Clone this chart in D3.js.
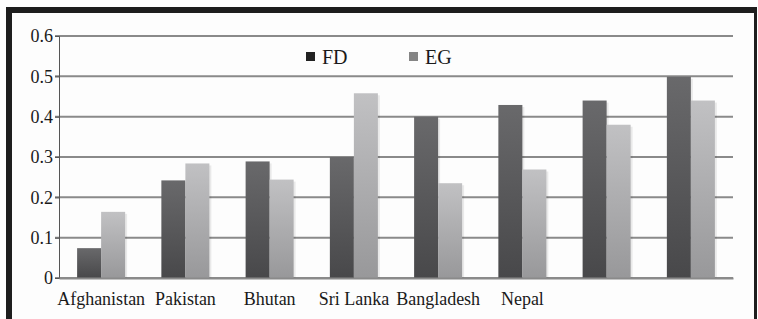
<!DOCTYPE html>
<html>
<head>
<meta charset="utf-8">
<script src="https://cdn.jsdelivr.net/npm/d3@7"></script>
<style>
  html, body { margin: 0; padding: 0; background: #ffffff; }
  svg text { font-family: "Liberation Serif", "Times New Roman", serif; fill: #1a1a1a; }
</style>
</head>
<body>
<svg id="chart"></svg>
<script>
// chart data
var categories = ["Afghanistan", "Pakistan", "Bhutan", "Sri Lanka", "Bangladesh", "Nepal", "", ""];
var series = ["FD", "EG"];
var fdValues = [0.074, 0.242, 0.289, 0.300, 0.400, 0.429, 0.440, 0.499];
var egValues = [0.164, 0.284, 0.244, 0.458, 0.235, 0.269, 0.380, 0.440];
var yTicks = [0, 0.1, 0.2, 0.3, 0.4, 0.5, 0.6];

var width = 758, height = 319;
var plot = {left: 59, right: 733, top: 36, bottom: 278};

var svg = d3.select("#chart")
    .attr("width", width)
    .attr("height", height);

// frame: off-white panel with a heavy top/left border, thin right edge
svg.append("rect")
    .attr("x", 6).attr("y", 7)
    .attr("width", width - 6 - 1).attr("height", height - 7)
    .attr("fill", "#1e1e1e");
svg.append("rect")
    .attr("x", 12).attr("y", 13)
    .attr("width", width - 12 - 4).attr("height", height - 13)
    .attr("fill", "#fdfdfd");

// gradients for the bars
var defs = svg.append("defs");
function grad(id, top, bottom) {
  var g = defs.append("linearGradient")
      .attr("id", id)
      .attr("x1", 0).attr("y1", 0).attr("x2", 0).attr("y2", 1);
  g.append("stop").attr("offset", "0%").attr("stop-color", top);
  g.append("stop").attr("offset", "100%").attr("stop-color", bottom);
}
grad("gFD", "#69696b", "#48484a");
grad("gEG", "#c1c1c3", "#98989a");

var idx = d3.range(categories.length);

var x0 = d3.scaleBand()
    .domain(idx)
    .range([plot.left, plot.right])
    .paddingInner(0.43)
    .paddingOuter(0.215);

var x1 = d3.scaleBand()
    .domain(series)
    .range([0, x0.bandwidth()]);

var y = d3.scaleLinear()
    .domain([0, 0.6])
    .range([plot.bottom, plot.top]);

// gridlines
svg.append("g")
    .selectAll("line")
    .data(yTicks)
    .join("line")
    .attr("x1", plot.left - 4)
    .attr("x2", plot.right)
    .attr("y1", function(d) { return y(d); })
    .attr("y2", function(d) { return y(d); })
    .attr("stroke", "#8a8a8a")
    .attr("stroke-width", 2);

// y axis
var yAxis = svg.append("g")
    .attr("transform", "translate(" + plot.left + ",0)")
    .call(d3.axisLeft(y).tickValues(yTicks).tickSize(4).tickPadding(2)
      .tickFormat(function(d) { return d === 0 ? "0" : d3.format(".1f")(d); }));
yAxis.select(".domain").attr("stroke", "#555").attr("stroke-width", 1);
yAxis.selectAll(".tick line").attr("stroke", "#555");
yAxis.selectAll("text")
    .attr("font-size", "18px")
    .attr("fill", "#1a1a1a")
    .style("font-family", "Liberation Serif, serif");

// bars
var rows = idx.map(function(i) {
  return [{s: "FD", v: fdValues[i]}, {s: "EG", v: egValues[i]}];
});

var groups = svg.append("g")
    .selectAll("g")
    .data(rows)
    .join("g")
    .attr("transform", function(d, i) { return "translate(" + x0(i) + ",0)"; });

// faint right-side shadow, then the bars
groups.selectAll("rect.shadow")
    .data(function(d) { return d; })
    .join("rect")
    .attr("class", "shadow")
    .attr("x", function(d) { return x1(d.s) + 2; })
    .attr("y", function(d) { return y(d.v) + 2; })
    .attr("width", x1.bandwidth())
    .attr("height", function(d) { return y(0) - y(d.v) - 1; })
    .attr("fill", "#000")
    .attr("opacity", 0.08);

groups.selectAll("rect.bar")
    .data(function(d) { return d; })
    .join("rect")
    .attr("class", "bar")
    .attr("x", function(d) { return x1(d.s); })
    .attr("y", function(d) { return y(d.v); })
    .attr("width", x1.bandwidth())
    .attr("height", function(d) { return y(0) - y(d.v); })
    .attr("fill", function(d) { return d.s === "FD" ? "url(#gFD)" : "url(#gEG)"; });

// x axis baseline + labels
var xAxis = svg.append("g")
    .attr("transform", "translate(0," + plot.bottom + ")")
    .call(d3.axisBottom(x0).tickSize(0).tickPadding(14)
      .tickFormat(function(i) { return categories[i]; }));
xAxis.select(".domain").attr("stroke", "#8a8a8a").attr("stroke-width", 2);
xAxis.selectAll("text")
    .attr("font-size", "18px")
    .attr("fill", "#1a1a1a")
    .style("font-family", "Liberation Serif, serif");

// legend
var legendX = [306, 409];
var legendColors = ["#222222", "#858585"];
var legend = svg.append("g")
    .selectAll("g")
    .data(series)
    .join("g")
    .attr("transform", function(d, i) { return "translate(" + legendX[i] + ",52)"; });
legend.append("rect")
    .attr("width", 9).attr("height", 9)
    .attr("fill", function(d, i) { return legendColors[i]; });
legend.append("text")
    .attr("x", 16)
    .attr("y", 11.5)
    .attr("font-size", "20px")
    .text(function(d) { return d; });
</script>
</body>
</html>
